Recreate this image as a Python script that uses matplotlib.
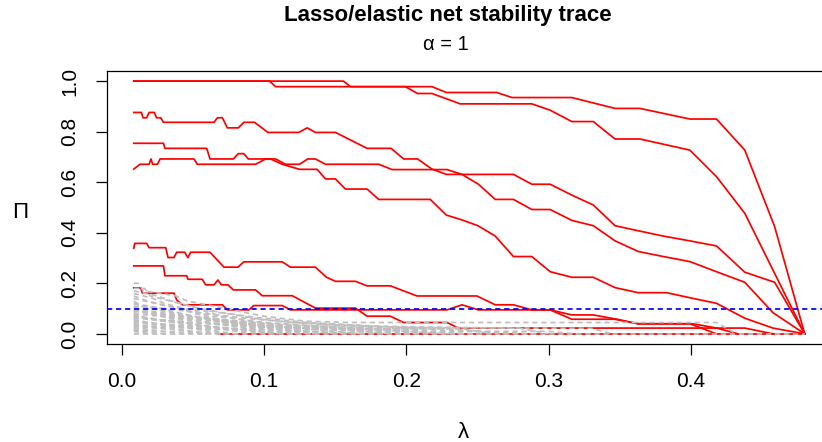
import matplotlib
matplotlib.use("Agg")
import matplotlib.pyplot as plt

# Lasso / elastic net stability trace (alpha = 1)
# selection probability Pi against lambda

plt.rcParams['font.family'] = ['Liberation Sans', 'DejaVu Sans']

x_ticks = [0.0, 0.1, 0.2, 0.3, 0.4]
x_tick_labels = ['0.0', '0.1', '0.2', '0.3', '0.4']
y_ticks = [0.0, 0.2, 0.4, 0.6, 0.8, 1.0]
y_tick_labels = ['0.0', '0.2', '0.4', '0.6', '0.8', '1.0']
cutoff = 0.1

# selected variables (red), (lambda, Pi) knots
red_a = [(0.0084, 1.000), (0.1039, 1.000), (0.1081, 0.978), (0.2180, 0.978), (0.2281, 0.955),
         (0.2636, 0.955), (0.2742, 0.935), (0.3163, 0.935), (0.3467, 0.892), (0.3642, 0.892),
         (0.3993, 0.850), (0.4180, 0.850), (0.4379, 0.727), (0.4589, 0.424), (0.4800, 0.000)]
red_b = [(0.0084, 1.000), (0.1558, 1.000), (0.1607, 0.978), (0.1993, 0.978), (0.2079, 0.951),
         (0.2180, 0.951), (0.2379, 0.910), (0.2882, 0.910), (0.3011, 0.885), (0.3163, 0.840),
         (0.3314, 0.840), (0.3467, 0.771), (0.3642, 0.771), (0.3993, 0.727), (0.4180, 0.622),
         (0.4379, 0.477), (0.4800, 0.000)]
red_c = [(0.0084, 0.876), (0.0138, 0.876), (0.0149, 0.855), (0.0175, 0.855), (0.0192, 0.876),
         (0.0229, 0.876), (0.0244, 0.855), (0.0274, 0.855), (0.0293, 0.837), (0.0648, 0.837),
         (0.0672, 0.855), (0.0707, 0.855), (0.0742, 0.815), (0.0819, 0.815), (0.0858, 0.837),
         (0.0933, 0.837), (0.1027, 0.797), (0.1244, 0.797), (0.1303, 0.815), (0.1361, 0.797),
         (0.1502, 0.797), (0.1724, 0.734), (0.1893, 0.734), (0.1981, 0.692), (0.2079, 0.692),
         (0.2180, 0.652), (0.2281, 0.631), (0.2391, 0.631), (0.2507, 0.592), (0.2625, 0.532),
         (0.2753, 0.532), (0.2882, 0.492), (0.3011, 0.492), (0.3163, 0.449), (0.3314, 0.428),
         (0.3467, 0.368), (0.3630, 0.326), (0.3806, 0.306), (0.3993, 0.286), (0.4180, 0.246),
         (0.4379, 0.204), (0.4577, 0.084), (0.4800, 0.000)]
red_d = [(0.0084, 0.754), (0.0293, 0.754), (0.0303, 0.734), (0.0597, 0.734), (0.0620, 0.692),
         (0.0784, 0.692), (0.0819, 0.713), (0.0858, 0.713), (0.0889, 0.692), (0.1046, 0.692),
         (0.1128, 0.671), (0.1249, 0.651), (0.1373, 0.651), (0.1432, 0.613), (0.1502, 0.613),
         (0.1572, 0.573), (0.1724, 0.573), (0.1806, 0.532), (0.2168, 0.532), (0.2281, 0.470),
         (0.2391, 0.451), (0.2503, 0.428), (0.2625, 0.387), (0.2753, 0.306), (0.2882, 0.306),
         (0.3011, 0.246), (0.3163, 0.224), (0.3314, 0.224), (0.3467, 0.183), (0.3630, 0.163),
         (0.3830, 0.163), (0.3993, 0.143), (0.4180, 0.121), (0.4379, 0.062), (0.4577, 0.023),
         (0.4800, 0.000)]
red_e = [(0.0084, 0.652), (0.0128, 0.671), (0.0192, 0.671), (0.0205, 0.692), (0.0217, 0.671),
         (0.0251, 0.671), (0.0269, 0.692), (0.0507, 0.692), (0.0531, 0.671), (0.0940, 0.671),
         (0.1011, 0.692), (0.1081, 0.692), (0.1151, 0.671), (0.1249, 0.671), (0.1307, 0.692),
         (0.1361, 0.692), (0.1432, 0.671), (0.1806, 0.671), (0.1900, 0.650), (0.2286, 0.650),
         (0.2391, 0.631), (0.2753, 0.631), (0.2882, 0.592), (0.3011, 0.592), (0.3163, 0.549),
         (0.3314, 0.510), (0.3467, 0.428), (0.3630, 0.408), (0.3806, 0.387), (0.3993, 0.368),
         (0.4180, 0.348), (0.4379, 0.244), (0.4589, 0.204), (0.4800, 0.000)]
red_f = [(0.0084, 0.339), (0.0091, 0.358), (0.0175, 0.358), (0.0192, 0.341), (0.0309, 0.341),
         (0.0325, 0.302), (0.0367, 0.302), (0.0386, 0.323), (0.0442, 0.323), (0.0465, 0.302),
         (0.0484, 0.323), (0.0620, 0.323), (0.0718, 0.264), (0.0816, 0.264), (0.0858, 0.285),
         (0.1128, 0.285), (0.1186, 0.264), (0.1361, 0.264), (0.1439, 0.224), (0.1502, 0.208),
         (0.1642, 0.208), (0.1724, 0.190), (0.1888, 0.190), (0.2075, 0.150), (0.2496, 0.150),
         (0.2625, 0.115), (0.2753, 0.115), (0.2882, 0.095), (0.3011, 0.095), (0.3163, 0.058),
         (0.3467, 0.058), (0.3630, 0.040), (0.3993, 0.040), (0.4180, 0.000)]
red_g = [(0.0084, 0.269), (0.0293, 0.269), (0.0303, 0.230), (0.0456, 0.230), (0.0465, 0.216),
         (0.0566, 0.216), (0.0589, 0.194), (0.0648, 0.194), (0.0676, 0.213), (0.0700, 0.194),
         (0.0746, 0.194), (0.0784, 0.174), (0.0940, 0.174), (0.0987, 0.151), (0.1198, 0.151),
         (0.1361, 0.102), (0.1642, 0.102), (0.1724, 0.070), (0.1888, 0.070), (0.1981, 0.045),
         (0.2286, 0.045), (0.2367, 0.023), (0.4379, 0.023), (0.4577, 0.000)]
red_h = [(0.0084, 0.182), (0.0133, 0.182), (0.0145, 0.161), (0.0367, 0.161), (0.0386, 0.134),
         (0.0426, 0.115), (0.0707, 0.115), (0.0742, 0.095), (0.0893, 0.095), (0.0928, 0.112),
         (0.1128, 0.112), (0.1186, 0.095), (0.2286, 0.095), (0.2391, 0.115), (0.2507, 0.095),
         (0.3011, 0.095), (0.3163, 0.075), (0.3314, 0.075), (0.3479, 0.058), (0.3630, 0.040),
         (0.4016, 0.040), (0.4180, 0.023), (0.4332, 0.000)]
red_zero = [(0.0683, 0.0), (0.4800, 0.0)]

# the remaining variables (grey, dashed)
gray_traces = [
    [(0.0084, 0.20), (0.012, 0.20), (0.015, 0.17), (0.028, 0.16), (0.038, 0.15), (0.046, 0.13),
     (0.060, 0.115), (0.074, 0.10), (0.086, 0.085), (0.100, 0.07), (0.114, 0.06), (0.130, 0.05),
     (0.160, 0.045), (0.418, 0.045), (0.432, 0.0)],
    [(0.0084, 0.18), (0.016, 0.18), (0.020, 0.15), (0.034, 0.13), (0.048, 0.11), (0.062, 0.09),
     (0.080, 0.075), (0.095, 0.06), (0.120, 0.045), (0.150, 0.035), (0.200, 0.025), (0.330, 0.022),
     (0.345, 0.0)],
    [(0.0084, 0.17), (0.025, 0.15), (0.035, 0.13), (0.055, 0.10), (0.075, 0.08), (0.095, 0.065),
     (0.130, 0.045), (0.180, 0.03), (0.280, 0.022), (0.300, 0.0)],
    [(0.0084, 0.16), (0.022, 0.14), (0.030, 0.12), (0.044, 0.10), (0.058, 0.09), (0.070, 0.07),
     (0.090, 0.05), (0.110, 0.04), (0.140, 0.03), (0.180, 0.02), (0.240, 0.02), (0.260, 0.0)],
    [(0.0084, 0.15), (0.018, 0.13), (0.032, 0.11), (0.050, 0.09), (0.064, 0.07), (0.080, 0.06),
     (0.100, 0.045), (0.125, 0.035), (0.160, 0.02), (0.200, 0.01), (0.230, 0.0)],
    [(0.0084, 0.14), (0.024, 0.12), (0.040, 0.10), (0.052, 0.08), (0.066, 0.06), (0.085, 0.045),
     (0.110, 0.03), (0.150, 0.02), (0.190, 0.0)],
    [(0.0084, 0.13), (0.014, 0.11), (0.028, 0.10), (0.042, 0.08), (0.056, 0.065), (0.072, 0.05),
     (0.095, 0.035), (0.130, 0.02), (0.170, 0.0)],
    [(0.0084, 0.12), (0.020, 0.10), (0.036, 0.085), (0.050, 0.07), (0.068, 0.05), (0.085, 0.035),
     (0.115, 0.02), (0.150, 0.0)],
    [(0.0084, 0.12), (0.030, 0.10), (0.060, 0.08), (0.090, 0.06), (0.120, 0.045), (0.180, 0.03),
     (0.230, 0.02), (0.270, 0.0)],
    [(0.0084, 0.11), (0.026, 0.095), (0.040, 0.075), (0.058, 0.06), (0.075, 0.04), (0.100, 0.025),
     (0.135, 0.0)],
    [(0.0084, 0.105), (0.020, 0.09), (0.045, 0.07), (0.075, 0.055), (0.105, 0.04), (0.140, 0.025),
     (0.200, 0.015), (0.240, 0.0)],
    [(0.0084, 0.10), (0.016, 0.085), (0.030, 0.07), (0.046, 0.06), (0.062, 0.045), (0.080, 0.03),
     (0.120, 0.015), (0.160, 0.0)],
    [(0.0084, 0.095), (0.028, 0.08), (0.050, 0.065), (0.080, 0.05), (0.120, 0.03), (0.170, 0.015),
     (0.210, 0.0)],
    [(0.0084, 0.09), (0.040, 0.07), (0.080, 0.045), (0.110, 0.035), (0.150, 0.03), (0.200, 0.02),
     (0.250, 0.01), (0.290, 0.0)],
    [(0.0084, 0.09), (0.022, 0.08), (0.034, 0.06), (0.052, 0.05), (0.070, 0.035), (0.095, 0.02),
     (0.125, 0.0)],
    [(0.0084, 0.085), (0.012, 0.07), (0.028, 0.055), (0.044, 0.045), (0.060, 0.03), (0.090, 0.015),
     (0.110, 0.0)],
    [(0.0084, 0.08), (0.035, 0.065), (0.065, 0.05), (0.095, 0.035), (0.140, 0.02), (0.190, 0.01),
     (0.250, 0.0)],
    [(0.0084, 0.075), (0.018, 0.06), (0.038, 0.05), (0.054, 0.035), (0.076, 0.02), (0.100, 0.01),
     (0.140, 0.0)],
    [(0.0084, 0.07), (0.024, 0.055), (0.042, 0.04), (0.066, 0.025), (0.090, 0.0)],
    [(0.0084, 0.065), (0.050, 0.045), (0.100, 0.03), (0.160, 0.02), (0.220, 0.01), (0.300, 0.01),
     (0.320, 0.0)],
    [(0.0084, 0.065), (0.030, 0.05), (0.060, 0.04), (0.100, 0.025), (0.150, 0.015), (0.200, 0.0)],
    [(0.0084, 0.06), (0.014, 0.05), (0.032, 0.035), (0.056, 0.02), (0.080, 0.0)],
    [(0.0084, 0.055), (0.020, 0.04), (0.048, 0.03), (0.070, 0.02), (0.105, 0.0)],
    [(0.0084, 0.05), (0.025, 0.04), (0.055, 0.03), (0.085, 0.02), (0.130, 0.01), (0.180, 0.0)],
    [(0.0084, 0.045), (0.026, 0.035), (0.050, 0.02), (0.072, 0.0)],
    [(0.0084, 0.04), (0.016, 0.03), (0.038, 0.02), (0.060, 0.0)],
    [(0.0084, 0.035), (0.040, 0.025), (0.080, 0.015), (0.120, 0.0)],
    [(0.0084, 0.03), (0.030, 0.02), (0.048, 0.01), (0.068, 0.0)],
    [(0.0084, 0.025), (0.022, 0.015), (0.040, 0.0)],
    [(0.0084, 0.02), (0.014, 0.01), (0.030, 0.0)],
    [(0.0084, 0.015), (0.030, 0.01), (0.060, 0.0)],
    [(0.0084, 0.01), (0.020, 0.0)],
    [(0.0084, 0.0), (0.480, 0.0)],
]

red_traces = [red_a, red_b, red_c, red_d, red_e, red_f, red_g, red_h, red_zero]

fig = plt.figure(figsize=(8.22, 4.42), dpi=100)
# plot region runs a little past the right edge, like the cropped reference
ax = fig.add_axes([107 / 822, 98 / 442, 726 / 822, 273 / 442])

for tr in red_traces:
    lam, pi = zip(*tr)
    ax.plot(lam, pi, color='#FF0000', lw=1.25, zorder=2)

for tr in gray_traces:
    lam, pi = zip(*tr)
    ax.plot(lam, pi, color='#BEBEBE', lw=1.25, linestyle=(0, (3, 2.2)), zorder=3)

ax.axhline(cutoff, color='#0000FF', lw=1.25, linestyle=(0, (3, 2.2)), zorder=4)

ax.set_xlim(-0.0104, 0.4999)
ax.set_ylim(-0.04, 1.04)

ax.set_xticks(x_ticks)
ax.set_xticklabels(x_tick_labels)
ax.set_yticks(y_ticks)
ax.set_yticklabels(y_tick_labels, rotation=90, va='center')
ax.tick_params(direction='out', length=8, width=0.9, labelsize=15, pad=12, colors='black')

for s in ax.spines.values():
    s.set_linewidth(0.9)
    s.set_color('black')

fig.text(448 / 822, 1 - 16 / 442, 'Lasso/elastic net stability trace',
         ha='center', va='center', fontsize=16, fontweight='bold')
fig.text(446 / 822, 1 - 45 / 442, 'α = 1', ha='center', va='center', fontsize=14.5)
fig.text(463 / 822, 1 - 432 / 442, 'λ', ha='center', va='center', fontsize=16)
fig.text(20 / 822, 1 - 212 / 442, 'Π', ha='center', va='center', fontsize=16)

fig.savefig('out.png', dpi=100)
